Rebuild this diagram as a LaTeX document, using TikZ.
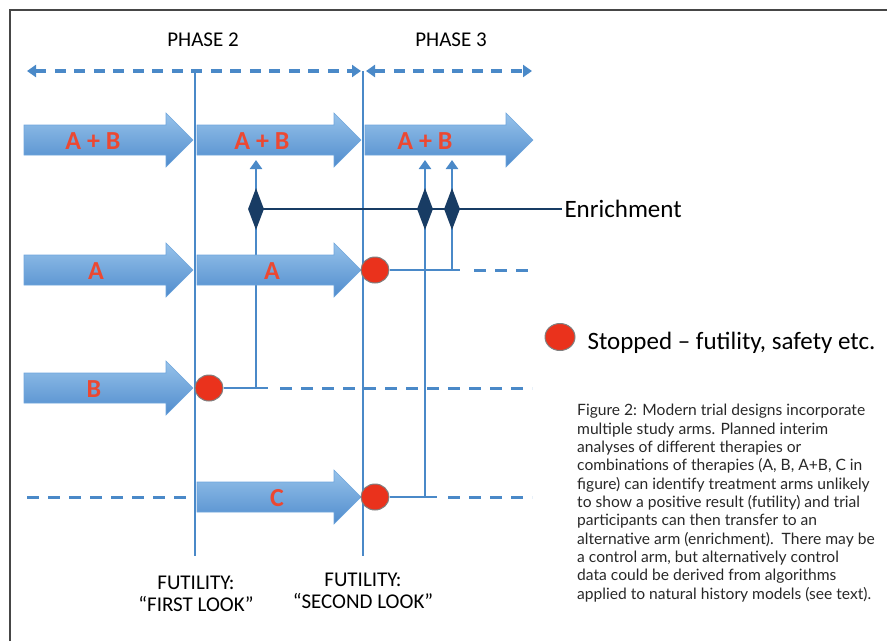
\documentclass[tikz,border=0pt]{standalone}
\usepackage{fontspec}
\setmainfont{Carlito}
\newfontfamily\capfont{Lato}
\usetikzlibrary{arrows.meta,shapes.geometric}
\definecolor{lineblue}{RGB}{74,137,200}
\definecolor{arrowtop}{RGB}{150,194,234}
\definecolor{arrowbot}{RGB}{80,140,205}
\definecolor{arrowedge}{RGB}{110,165,220}
\definecolor{navy}{RGB}{24,60,100}
\definecolor{stopred}{RGB}{234,50,28}
\definecolor{labred}{RGB}{236,72,50}
\definecolor{framegray}{RGB}{70,70,70}
\definecolor{captext}{RGB}{40,40,40}
\newcommand\myBigArrow[3]{%
  \shade[top color=arrowtop,bottom color=arrowbot,draw=arrowedge,line width=0.6pt]
  (#1,#3-15) -- (#2-27,#3-15) -- (#2-27,#3-27) -- (#2,#3) -- (#2-27,#3+27)
  -- (#2-27,#3+15) -- (#1,#3+15) -- cycle;}
\tikzset{
  phaseline/.style={draw=lineblue,line width=2.5pt},
  armline/.style={draw=lineblue,line width=2.6pt},
  armdash/.style={draw=lineblue,line width=3pt,dash pattern=on 12pt off 9pt},
  topdash/.style={draw=lineblue,line width=3.5pt,dash pattern=on 11pt off 8.5pt,
     {Triangle[width=12pt,length=9pt]}-{Triangle[width=12pt,length=9pt]}},
  uparrow/.style={draw=lineblue,line width=2.5pt,-{Triangle[width=12pt,length=9pt]}},
  enrline/.style={draw=navy,line width=2.5pt},
  stopdot/.style={ellipse,minimum width=28pt,minimum height=26pt,inner sep=0pt,
     fill=stopred,draw=gray,line width=1pt},
  enrdiamond/.style={diamond,minimum width=16pt,minimum height=42pt,inner sep=0pt,fill=navy},
  armlabel/.style={text=labred,font=\fontsize{26}{30}\selectfont\bfseries},
  headtext/.style={font=\fontsize{21}{24}\selectfont,text=black},
  legtext/.style={font=\fontsize{25}{28}\selectfont,text=black,anchor=west},
}
\begin{document}
\begin{tikzpicture}[x=1pt,y=-1pt]
\useasboundingbox (0,0) rectangle (887,641);
% frame
\draw[framegray,line width=2pt] (9.5,641) -- (9.5,10) -- (887,10);
% phase headings
\node[headtext] (ph2) at (203,40) {PHASE 2};
\node[headtext] (ph3) at (451,40) {PHASE 3};
% top dashed double arrows
\coordinate (t1) at (27,71); \coordinate (t2) at (361,71);
\coordinate (t3) at (366,71); \coordinate (t4) at (532,71);
\draw[topdash] (t1) -- (t2);
\draw[topdash] (t3) -- (t4);
% phase vertical lines
\coordinate (v1t) at (195,71); \coordinate (v1b) at (195,556);
\coordinate (v2t) at (363,71); \coordinate (v2b) at (363,556);
\draw[phaseline] (v1t) -- (v1b);
\draw[phaseline] (v2t) -- (v2b);
% enrichment up arrows (behind big arrows)
\coordinate (eB) at (256,388); \coordinate (eBt) at (256,160);
\coordinate (eC) at (425,497); \coordinate (eCt) at (425,160);
\coordinate (eA) at (452,270); \coordinate (eAt) at (452,160);
\draw[uparrow] (eB) -- (eBt);
\draw[uparrow] (eC) -- (eCt);
\draw[uparrow] (eA) -- (eAt);
% big arrows
\myBigArrow{24}{193}{140}
\myBigArrow{197}{361}{140}
\myBigArrow{365}{533}{140}
\myBigArrow{24}{193}{270}
\myBigArrow{197}{361}{270}
\myBigArrow{24}{193}{388}
\myBigArrow{197}{361}{497}
% labels
\node[armlabel] (lab1) at (93,141) {A + B};
\node[armlabel] (lab2) at (262,141) {A + B};
\node[armlabel] (lab3) at (425,141) {A + B};
\node[armlabel] (labA1) at (96,271) {A};
\node[armlabel] (labA2) at (272,271) {A};
\node[armlabel] (labB) at (94,389) {B};
\node[armlabel] (labC) at (277,498) {C};
% stopped dots
\node[stopdot] (sA) at (375,270) {};
\node[stopdot] (sB) at (209,388) {};
\node[stopdot] (sC) at (375,497) {};
% arm continuation lines
\coordinate (aD1) at (474,270); \coordinate (aD2) at (532,270);
\draw[armline] (sA.east) -- (eA);
\draw[armline] (eA) -- ++(8,0);
\draw[armdash] (aD1) -- (aD2);
\coordinate (bS) at (268,388); \coordinate (bD1) at (280,388); \coordinate (bD2) at (532,388);
\draw[armline] (sB.east) -- (bS);
\draw[armdash] (bD1) -- (bD2);
\coordinate (cS) at (437,497); \coordinate (cD1) at (448,497); \coordinate (cD2) at (532,497);
\draw[armline] (sC.east) -- (cS);
\draw[armdash] (cD1) -- (cD2);
\coordinate (c0a) at (27,497); \coordinate (c0b) at (195,497);
\draw[armdash] (c0a) -- (c0b);
% enrichment line and diamonds
\coordinate (enrEnd) at (562,209);
\node[enrdiamond] (d1) at (256,209) {};
\draw[enrline] (d1.center) -- (enrEnd);
\node[enrdiamond] (d2) at (425,209) {};
\node[enrdiamond] (d3) at (452,209) {};
\node[legtext] (enr) at (561,209) {Enrichment};
% legend
\node[stopdot,minimum width=30pt,minimum height=27pt] (legdot) at (560,337) {};
\node[legtext] (legtxt) at (584,343) {Stopped – futility, safety etc.};
% futility labels
\node[headtext,align=center] (fut1) at (196,594) {FUTILITY:\\[-2pt]“FIRST LOOK”};
\node[headtext,align=center] (fut2) at (363,591) {FUTILITY:\\[-2pt]“SECOND LOOK”};
% caption
\node[anchor=north west,align=left,inner sep=0pt,text=captext,font=\capfont\fontsize{15.6}{18.36}\selectfont] (cap) at (577,404) {%
Figure 2: Modern trial designs incorporate\\
multiple study arms. Planned interim\\
analyses of different therapies or\\
combinations of therapies (A, B, A+B, C in\\
figure) can identify treatment arms unlikely\\
to show a positive result (futility) and trial\\
participants can then transfer to an\\
alternative arm (enrichment).\ \ There may be\\
a control arm, but alternatively control\\
data could be derived from algorithms\\
applied to natural history models (see text).};
\end{tikzpicture}
\end{document}
